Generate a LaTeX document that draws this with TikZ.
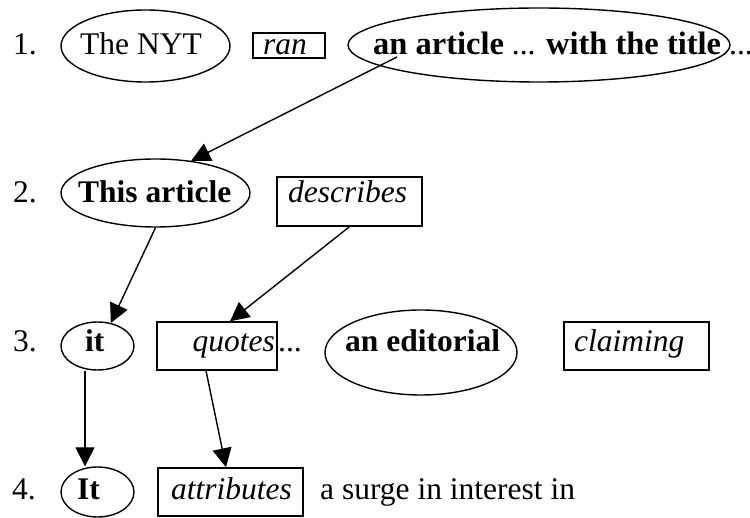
\documentclass[tikz,border=0pt]{standalone}
\usepackage{fontspec}
\setmainfont{Liberation Serif}
\usetikzlibrary{arrows.meta,shapes.geometric}
\begin{document}
\begin{tikzpicture}[x=1pt,y=-1pt]
\tikzset{
  lbl/.style={inner sep=0pt, anchor=base west, font=\fontsize{31.5}{38}\selectfont},
  oval/.style={draw, ellipse, line width=1.4pt, inner sep=0pt},
  tag/.style={draw, rectangle, line width=1.4pt, inner sep=0pt},
  link/.style={line width=1.4pt, -{Triangle[length=19pt,width=19pt]}}
}
\useasboundingbox (0,0) rectangle (750,518);
% row 1
\node[lbl] (n1) at (13,55) {1.};
\node[oval, minimum width=169pt, minimum height=72pt] (nyt) at (145.5,46) {};
\node[lbl] (nytT) at (80,55) {The NYT};
\node[tag, minimum width=72pt, minimum height=25pt] (ran) at (289,45.5) {};
\node[lbl] (ranT) at (263,55) {\itshape ran};
\node[oval, minimum width=382pt, minimum height=74pt] (art) at (539,45) {};
\node[lbl] (artT) at (373,55) {{\fontsize{32.5}{38}\selectfont\bfseries an article} ... {\fontsize{32.5}{38}\selectfont\bfseries with the title}};
\node[lbl] (dots1) at (729,55) {...};
% row 2
\node[lbl] (n2) at (13,203) {2.};
\node[oval, minimum width=189pt, minimum height=68pt] (this) at (155.5,193) {};
\node[lbl] (thisT) at (78,203) {\bfseries This article};
\node[tag, minimum width=145pt, minimum height=49pt] (desc) at (349.5,201.5) {};
\node[lbl] (descT) at (288,203) {\itshape describes};
% row 3
\node[lbl] (n3) at (13,352) {3.};
\node[oval, minimum width=73pt, minimum height=48pt] (it) at (97.5,346) {};
\node[lbl] (itT) at (85,352) {\bfseries it};
\node[tag, minimum width=120pt, minimum height=48pt] (quo) at (217,346) {};
\node[lbl, anchor=base east] (quoT) at (275,352) {\itshape quotes};
\node[lbl] (dots3) at (278,352) {...};
\node[oval, minimum width=192pt, minimum height=85pt] (edi) at (421,352.5) {};
\node[lbl] (ediT) at (345,352) {\bfseries an editorial};
\node[tag, minimum width=145pt, minimum height=48pt] (cla) at (636.5,346) {};
\node[lbl] (claT) at (574,352) {\itshape claiming};
% row 4
\node[lbl] (n4) at (12,500) {4.};
\node[oval, minimum width=73pt, minimum height=50pt] (It) at (97.5,492) {};
\node[lbl] (ItT) at (77,500) {\bfseries It};
\node[tag, minimum width=145pt, minimum height=48pt] (att) at (230.5,492) {};
\node[lbl] (attT) at (171,500) {\itshape attributes};
\node[lbl] (surge) at (320,500) {a surge in interest in};
% connectors
\coordinate (artS) at (397,57);
\draw[link] (artS) -- (this.42);
\draw[link] (this.south) -- (it.60);
\draw[link] (desc.south) -- ([xshift=13pt]quo.north);
\draw[link] ([xshift=-12.5pt]it.south) -- ([xshift=-12.5pt]It.north);
\draw[link] ([xshift=-11pt]quo.south) -- ([xshift=-4.5pt]att.north);
\end{tikzpicture}
\end{document}
